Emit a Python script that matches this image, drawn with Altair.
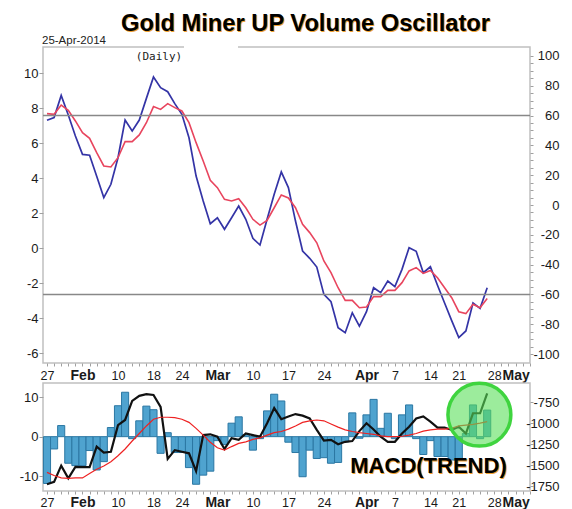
import altair as alt
import pandas as pd

TITLE = "Gold Miner UP Volume Oscillator"
DATE_LABEL = "25-Apr-2014"
PERIOD_LABEL = "(Daily)"
LOWER_LABEL = "MACD(TREND)"

day_index = list(range(63))
tick_index = [0, 5, 10, 15, 19, 24, 29, 34, 39, 45, 49, 54, 58, 63, 66]
tick_label = ["27", "Feb", "10", "18", "24", "Mar", "10", "17", "24", "Apr", "7", "14", "21", "28", "May"]
month_labels = ["Feb", "Mar", "Apr", "May"]

osc_fast = [7.30, 7.45, 8.72, 7.60, 6.40, 5.35, 5.30, 4.10, 2.88, 3.64,
            5.16, 7.31, 6.69, 7.31, 8.55, 9.77, 9.16, 8.93, 8.25, 7.64,
            6.30, 4.11, 2.69, 1.39, 1.73, 1.07, 1.73, 2.40, 1.64, 0.55,
            0.17, 1.64, 3.07, 4.35, 3.45, 1.54, -0.17, -0.59, -1.09, -2.65,
            -3.07, -4.55, -4.84, -3.70, -4.46, -3.64, -2.27, -2.55, -1.89, -2.21,
            -1.22, 0.02, -0.19, -1.41, -1.07, -2.13, -3.14, -4.15, -5.12, -4.74,
            -3.14, -3.45, -2.27]
osc_slow = [7.68, 7.64, 8.17, 7.87, 7.26, 6.59, 6.27, 5.45, 4.69, 4.63,
            5.16, 6.08, 6.08, 6.46, 7.16, 8.08, 7.92, 8.25, 8.02, 7.83,
            7.16, 6.02, 4.97, 3.87, 3.45, 2.78, 2.69, 2.82, 2.30, 1.64,
            1.31, 1.58, 2.30, 3.03, 2.86, 2.30, 1.35, 0.88, 0.30, -0.74,
            -1.41, -2.27, -2.99, -2.99, -3.41, -3.37, -2.78, -2.78, -2.42, -2.42,
            -1.98, -1.31, -1.12, -1.45, -1.28, -1.70, -2.27, -2.84, -3.64, -3.75,
            -3.22, -3.41, -2.88]
hist = [-11.8, -3.1, 2.8, -6.7, -7.3, -7.3, -3.5, -8.4, -6.3, 2.3,
        7.8, 11.2, -0.5, 4.0, 7.7, 6.8, -4.2, 1.0, -4.0, -4.0,
        -7.8, -12.0, -9.7, -8.7, -1.0, -2.0, 3.4, 5.0, 0.5, -3.4,
        -0.5, 6.5, 10.7, 9.0, -1.4, -4.0, -10.1, -3.4, -5.5, -5.3,
        -6.7, -6.5, -1.3, 6.0, -0.4, 5.5, 9.4, 2.1, 5.9, -0.5,
        5.5, 8.0, -0.5, -4.5, -1.0, -5.0, -5.0, -5.9, -5.9, 0.8,
        8.0, -0.5, 6.7]
macd_line = [-12.0, -11.4, -7.3, -10.5, -7.6, -7.7, -7.7, -2.5, -4.0, -3.8,
             2.9, 4.2, 9.0, 10.3, 10.7, 10.5, 7.5, -5.6, -3.4, -3.8,
             -4.2, -8.7, 0.4, 0.6, 0.0, -3.1, -0.4, -0.8, 0.8, 0.4,
             0.0, 3.4, 7.2, 4.4, 5.1, 5.7, 5.3, 4.6, 1.7, -1.0,
             -0.8, -1.9, -1.3, -1.1, 1.4, 3.4, 1.8, 0.0, -1.3, -1.3,
             0.8, 2.5, 4.6, 5.1, 3.8, 2.3, 2.3, 1.7, 2.5, 0.8,
             5.9, 5.9, 10.9]
macd_signal = [-9.0, -9.8, -10.4, -10.5, -10.4, -10.4, -9.3, -8.2, -7.4, -6.3,
               -4.8, -3.1, -1.1, 0.8, 2.7, 4.4, 4.9, 4.9, 4.8, 4.4,
               3.6, 2.1, 0.4, -1.4, -2.8, -3.4, -2.5, -1.7, -1.3, -0.7,
               -0.3, 0.4, 1.0, 1.3, 1.9, 2.7, 3.6, 4.0, 4.2, 4.0,
               3.2, 2.4, 1.7, 1.3, 1.0, 0.8, 0.6, 0.2, 0.0, 0.0,
               0.1, 0.4, 0.8, 1.4, 1.7, 1.9, 1.9, 2.1, 2.7, 2.9,
               3.1, 3.4, 3.8]

upper_levels = [60, -60]
left_top_ticks = [-6, -4, -2, 0, 2, 4, 6, 8, 10]
right_top_ticks = list(range(-100, 101, 5))
left_bot_ticks = [-10, 0, 10]
right_bot_ticks = [-1750, -1500, -1250, -1000, -750]
highlight_i = [60.9]
highlight_v = [5.55]

FONT = "Liberation Sans"
W = 487
H_TOP = 316
H_BOT = 108
XDOM = [-0.563, 68.03]
TXT = "#1a1a1a"
TICK = "#a0a0a0"

label_expr = "".join(f"datum.value == {i} ? '{l}' : " for i, l in zip(tick_index, tick_label)) + "''"
month_test = " || ".join(f"datum.value == {i}" for i, l in zip(tick_index, tick_label) if l in month_labels)


def x_axis(pad):
    return alt.Axis(values=list(range(0, 69)), labelExpr=label_expr, title=None, grid=False,
                    domain=False, tickSize=3, tickColor=TICK, tickWidth=1,
                    labelFont=FONT, labelColor=TXT,
                    labelFontSize={"condition": {"test": month_test, "value": 14}, "value": 12.5},
                    labelFontWeight={"condition": {"test": month_test, "value": "bold"}, "value": "normal"},
                    labelBaseline="alphabetic", labelPadding=pad, labelOverlap=False,
                    labelFlush=False, labelAngle=0)


def xq(field="i", pad=13):
    return alt.X(f"{field}:Q", scale=alt.Scale(domain=XDOM, nice=False, zero=False), axis=x_axis(pad))


def left_axis(vals):
    return alt.Axis(values=vals, labelExpr="'' + datum.value", title=None, grid=False, domain=False,
                    tickSize=4, tickColor=TICK, labelFont=FONT, labelFontSize=13,
                    labelColor=TXT, labelPadding=1)


def right_axis(vals, every):
    return alt.Axis(orient="right", values=vals,
                    labelExpr=f"datum.value % {every} == 0 ? '' + datum.value : ''",
                    title=None, grid=False, domain=False, tickSize=3, tickColor=TICK,
                    labelFont=FONT, labelFontSize=13, labelColor=TXT,
                    labelAlign="right", labelPadding=26, labelOverlap=False)


def text_layer(txt, x, y, size, weight="normal", color=TXT, align="left", font=FONT):
    return alt.Chart(pd.DataFrame({"t": [txt]})).mark_text(
        align=align, baseline="alphabetic", font=font, fontSize=size, fontWeight=weight,
        color=color).encode(x=alt.value(x), y=alt.value(y), text="t:N")


# ---------------- top panel ----------------
top_df = pd.DataFrame({"i": day_index, "fast": osc_fast, "slow": osc_slow})
yl_top = alt.Scale(domain=[-6.571, 11.486], nice=False, zero=False)
blue = alt.Chart(top_df).mark_line(color="#3434a6", strokeWidth=1.7).encode(
    x=xq(), y=alt.Y("fast:Q", scale=yl_top, axis=left_axis(left_top_ticks)))
red = alt.Chart(top_df).mark_line(color="#e8455e", strokeWidth=1.6).encode(
    x=xq(), y=alt.Y("slow:Q", scale=yl_top, axis=left_axis(left_top_ticks)))
left_top = alt.layer(blue, red)

lev_df = pd.DataFrame({"lev": upper_levels})
rules = alt.Chart(lev_df).mark_rule(color="#888888", strokeWidth=1.5).encode(
    y=alt.Y("lev:Q", scale=alt.Scale(domain=[-106.04, 106.04], nice=False, zero=False),
            axis=right_axis(right_top_ticks, 20)))

gap = alt.Chart(pd.DataFrame({"g": [0]})).mark_rule(color="white", strokeWidth=3).encode(
    x=alt.value(141), x2=alt.value(195), y=alt.value(0))

top = alt.layer(
    left_top, rules, gap,
    text_layer(TITLE, 263.5, -15, 23.7, "bold", "#f0a030", "center"),
    text_layer(TITLE, 262.5, -16, 23.7, "bold", "#000000", "center"),
    text_layer(DATE_LABEL, -1, -3, 11.5, color="#222222"),
    text_layer(PERIOD_LABEL, 116, 13, 11, color="#222222", align="center", font="DejaVu Sans Mono"),
).resolve_scale(y="independent").properties(width=W, height=H_TOP)

# ---------------- bottom panel ----------------
bot_df = pd.DataFrame({"i": day_index, "h": hist, "m": macd_line, "s": macd_signal})
yl_bot = alt.Scale(domain=[-13.7, 13.53], nice=False, zero=False)
bars = alt.Chart(bot_df).transform_calculate(x0="datum.i - 0.5", x1="datum.i + 0.5").mark_bar(
    fill="#4fa3cf", stroke="#2b77a3", strokeWidth=1).encode(
    x=xq("x0", 12), x2="x1:Q",
    y=alt.Y("h:Q", scale=yl_bot, axis=left_axis(left_bot_ticks)), y2=alt.datum(0))
black = alt.Chart(bot_df).mark_line(color="#111111", strokeWidth=2.2).encode(
    x=xq(pad=12), y=alt.Y("m:Q", scale=yl_bot, axis=left_axis(left_bot_ticks)))
sigl = alt.Chart(bot_df).mark_line(color="#ee2222", strokeWidth=1.2).encode(
    x=xq(pad=12), y=alt.Y("s:Q", scale=yl_bot, axis=left_axis(left_bot_ticks)))
hl_df = pd.DataFrame({"i": highlight_i, "v": highlight_v})
circle = alt.Chart(hl_df).mark_circle(size=3960, fill="#5ae05a", fillOpacity=0.6,
                                      stroke="#3fd43f", strokeWidth=3.5, strokeOpacity=1,
                                      opacity=1).encode(
    x=xq(pad=12), y=alt.Y("v:Q", scale=yl_bot, axis=left_axis(left_bot_ticks)))
left_bot = alt.layer(bars, black, sigl, circle)

rb_df = pd.DataFrame({"r": right_bot_ticks})
right_dummy = alt.Chart(rb_df).mark_rule(opacity=0).encode(
    y=alt.Y("r:Q", scale=alt.Scale(domain=[-1809.5, -523.8], nice=False, zero=False),
            axis=right_axis(right_bot_ticks, 250)))

bottom = alt.layer(
    left_bot, right_dummy,
    text_layer(LOWER_LABEL, 386.5, 91.3, 22, "bold", "#f0a030", "center"),
    text_layer(LOWER_LABEL, 385.5, 90.3, 22, "bold", "#000000", "center"),
).resolve_scale(y="independent").properties(width=W, height=H_BOT)

chart = alt.vconcat(top, bottom, spacing=-8).properties(
    padding={"left": 10, "top": 3, "right": 0, "bottom": 0},
    background="white",
).configure_view(stroke="#c0c0c0", strokeWidth=1.5)

chart.save("out.html", embed_options={"renderer": "svg", "actions": False})
